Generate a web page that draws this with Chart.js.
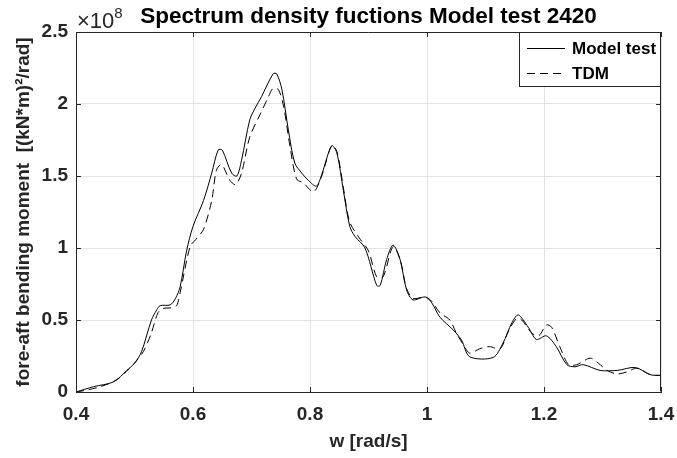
<!DOCTYPE html>
<html>
<head>
<meta charset="utf-8">
<script src="https://cdn.jsdelivr.net/npm/chart.js@4.4.0/dist/chart.umd.min.js"></script>
<style>
  html, body { margin: 0; padding: 0; background: #fff; }
  #wrap { width: 677px; height: 458px; }
</style>
</head>
<body>
<div id="wrap"><canvas id="psdChart" width="677" height="458"></canvas></div>
<script>
// values in units of 1e8 (kN*m)^2/rad
const modelW = [0.40, 0.43, 0.464, 0.487, 0.50, 0.512, 0.529, 0.538, 0.544, 0.561, 0.570, 0.578, 0.589, 0.60, 0.618, 0.632, 0.643, 0.650, 0.666, 0.675, 0.683, 0.697, 0.706, 0.717, 0.737, 0.743, 0.752, 0.763, 0.774, 0.786, 0.797, 0.811, 0.820, 0.837, 0.846, 0.857, 0.868, 0.877, 0.894, 0.914, 0.920, 0.931, 0.942, 0.954, 0.965, 0.976, 0.997, 1.008, 1.022, 1.045, 1.059, 1.073, 1.113, 1.130, 1.145, 1.156, 1.173, 1.187, 1.204, 1.221, 1.239, 1.253, 1.267, 1.296, 1.325, 1.356, 1.382, 1.40];
const modelV = [0.00, 0.037, 0.07, 0.15, 0.20, 0.28, 0.50, 0.57, 0.60, 0.605, 0.65, 0.73, 0.98, 1.15, 1.33, 1.52, 1.68, 1.68, 1.52, 1.50, 1.61, 1.89, 1.97, 2.05, 2.21, 2.21, 2.10, 1.82, 1.59, 1.52, 1.47, 1.43, 1.51, 1.71, 1.66, 1.40, 1.15, 1.08, 1.00, 0.74, 0.74, 0.92, 1.02, 0.92, 0.71, 0.64, 0.66, 0.62, 0.52, 0.43, 0.36, 0.245, 0.24, 0.34, 0.48, 0.535, 0.45, 0.365, 0.39, 0.315, 0.19, 0.175, 0.19, 0.15, 0.15, 0.17, 0.12, 0.115];

const tdmW = [0.40, 0.42, 0.44, 0.46, 0.475, 0.49, 0.50, 0.515, 0.528, 0.540, 0.549, 0.563, 0.572, 0.578, 0.595, 0.605, 0.618, 0.632, 0.640, 0.649, 0.663, 0.673, 0.683, 0.697, 0.715, 0.729, 0.737, 0.746, 0.755, 0.766, 0.777, 0.789, 0.806, 0.820, 0.837, 0.846, 0.857, 0.868, 0.886, 0.900, 0.914, 0.925, 0.942, 0.954, 0.965, 0.976, 0.997, 1.008, 1.022, 1.039, 1.050, 1.062, 1.073, 1.090, 1.107, 1.125, 1.139, 1.153, 1.162, 1.179, 1.191, 1.204, 1.213, 1.227, 1.242, 1.256, 1.279, 1.293, 1.308, 1.325, 1.342, 1.359, 1.382, 1.40];
const tdmV = [0.00, 0.015, 0.035, 0.065, 0.10, 0.16, 0.20, 0.28, 0.40, 0.55, 0.58, 0.585, 0.60, 0.69, 1.01, 1.06, 1.13, 1.33, 1.54, 1.58, 1.47, 1.44, 1.52, 1.77, 1.93, 2.05, 2.11, 2.10, 1.98, 1.70, 1.48, 1.45, 1.39, 1.50, 1.71, 1.67, 1.42, 1.18, 1.06, 0.98, 0.80, 0.80, 1.01, 0.92, 0.72, 0.65, 0.66, 0.63, 0.55, 0.50, 0.41, 0.33, 0.27, 0.30, 0.315, 0.30, 0.42, 0.51, 0.50, 0.41, 0.39, 0.465, 0.45, 0.315, 0.19, 0.19, 0.235, 0.20, 0.15, 0.125, 0.14, 0.165, 0.12, 0.115];

const xTicks = [0.4, 0.6, 0.8, 1.0, 1.2, 1.4];
const xTickLabels = ['0.4', '0.6', '0.8', '1', '1.2', '1.4'];
const yTicks = [0, 0.5, 1, 1.5, 2, 2.5];
const yTickLabels = ['0', '0.5', '1', '1.5', '2', '2.5'];
const seriesNames = ['Model test', 'TDM'];

const FONT = "'Liberation Sans', Arial, Helvetica, sans-serif";
const AXIS_COLOR = '#262626';
const DASH = [8, 5];

const toPoints = (xs, ys) => xs.map((x, i) => ({ x: x, y: ys[i] }));

// Title, exponent, legend, box and inward ticks (matlab look)
const decorPlugin = {
  id: 'decor',
  afterDraw(chart) {
    const ctx = chart.ctx;
    const area = chart.chartArea;
    const xs = chart.scales.x;
    const ys = chart.scales.y;
    ctx.save();

    // box and inward ticks
    ctx.strokeStyle = AXIS_COLOR;
    ctx.lineWidth = 1;
    ctx.beginPath();
    ctx.moveTo(area.left + 0.5, area.top + 0.5);
    ctx.lineTo(area.right - 0.5, area.top + 0.5);
    ctx.lineTo(area.right - 0.5, area.bottom - 0.5);
    ctx.stroke();
    const tl = 5;
    ctx.beginPath();
    xTicks.forEach(v => {
      const px = Math.round(xs.getPixelForValue(v)) + 0.5;
      ctx.moveTo(px, area.bottom); ctx.lineTo(px, area.bottom - tl);
      ctx.moveTo(px, area.top); ctx.lineTo(px, area.top + tl);
    });
    yTicks.forEach(v => {
      const py = Math.round(ys.getPixelForValue(v)) + 0.5;
      ctx.moveTo(area.left, py); ctx.lineTo(area.left + tl, py);
      ctx.moveTo(area.right, py); ctx.lineTo(area.right - tl, py);
    });
    ctx.stroke();

    // title
    ctx.fillStyle = '#000';
    ctx.font = 'bold 22.5px ' + FONT;
    ctx.textAlign = 'center';
    ctx.textBaseline = 'alphabetic';
    ctx.fillText('Spectrum density fuctions Model test 2420', (area.left + area.right) / 2, 23);

    // exponent label
    ctx.fillStyle = AXIS_COLOR;
    ctx.textAlign = 'left';
    ctx.font = '22px ' + FONT;
    ctx.fillText('\u00d710', area.left + 1, 28);
    const w10 = ctx.measureText('\u00d710').width;
    ctx.font = '15px ' + FONT;
    ctx.fillText('8', area.left + 1 + w10, 18);

    // legend
    const lx = 519, ly = area.top, lw = area.right - lx, lh = 55;
    ctx.fillStyle = '#fff';
    ctx.fillRect(lx, ly, lw, lh);
    ctx.strokeStyle = AXIS_COLOR;
    ctx.strokeRect(lx + 0.5, ly + 0.5, lw - 1, lh - 1);
    const rows = [ly + 16, ly + 41];
    ctx.font = 'bold 17px ' + FONT;
    ctx.textBaseline = 'middle';
    seriesNames.forEach((name, i) => {
      ctx.strokeStyle = '#000';
      ctx.setLineDash(i === 0 ? [] : DASH);
      ctx.beginPath();
      ctx.moveTo(527, rows[i] + 0.5);
      ctx.lineTo(565, rows[i] + 0.5);
      ctx.stroke();
      ctx.setLineDash([]);
      ctx.fillStyle = '#000';
      ctx.fillText(name, 572, rows[i] + 1);
    });
    ctx.restore();
  }
};

new Chart(document.getElementById('psdChart'), {
  type: 'line',
  data: {
    datasets: [
      {
        label: seriesNames[0],
        data: toPoints(modelW, modelV),
        borderColor: '#000',
        borderWidth: 1,
        pointRadius: 0,
        tension: 0.3,
        fill: false
      },
      {
        label: seriesNames[1],
        data: toPoints(tdmW, tdmV),
        borderColor: '#000',
        borderWidth: 1,
        borderDash: DASH,
        pointRadius: 0,
        tension: 0.3,
        fill: false
      }
    ]
  },
  options: {
    responsive: false,
    animation: false,
    layout: { padding: { left: 0, right: 16, top: 32, bottom: 0 } },
    plugins: {
      legend: { display: false },
      title: { display: false },
      tooltip: { enabled: false }
    },
    scales: {
      x: {
        type: 'linear',
        min: 0.4,
        max: 1.4,
        afterBuildTicks: s => { s.ticks = xTicks.map(v => ({ value: v })); },
        afterFit: s => { s.height = 66; s.paddingLeft = 0; s.paddingRight = 0; },
        ticks: {
          callback: (v, i) => xTickLabels[i],
          color: AXIS_COLOR,
          font: { family: FONT, size: 19, weight: 'bold' },
          padding: 11,
          maxRotation: 0
        },
        grid: { color: '#e3e3e3', drawTicks: false },
        border: { display: true, color: AXIS_COLOR },
        title: {
          display: true,
          text: 'w [rad/s]',
          color: AXIS_COLOR,
          font: { family: FONT, size: 19, weight: 'bold' },
          padding: { top: 0, bottom: 5 }
        }
      },
      y: {
        type: 'linear',
        min: 0,
        max: 2.5,
        afterBuildTicks: s => { s.ticks = yTicks.map(v => ({ value: v })); },
        afterFit: s => { s.width = 76; s.paddingTop = 0; s.paddingBottom = 0; },
        ticks: {
          callback: (v, i) => yTickLabels[i],
          color: AXIS_COLOR,
          font: { family: FONT, size: 19, weight: 'bold' },
          padding: 8
        },
        grid: { color: '#e3e3e3', drawTicks: false },
        border: { display: true, color: AXIS_COLOR },
        title: {
          display: true,
          text: 'fore-aft bending moment  [(kN*m)\u00b2/rad]',
          color: AXIS_COLOR,
          font: { family: FONT, size: 19, weight: 'bold' },
          padding: { top: 12, bottom: 0 }
        }
      }
    }
  },
  plugins: [decorPlugin]
});
</script>
</body>
</html>
